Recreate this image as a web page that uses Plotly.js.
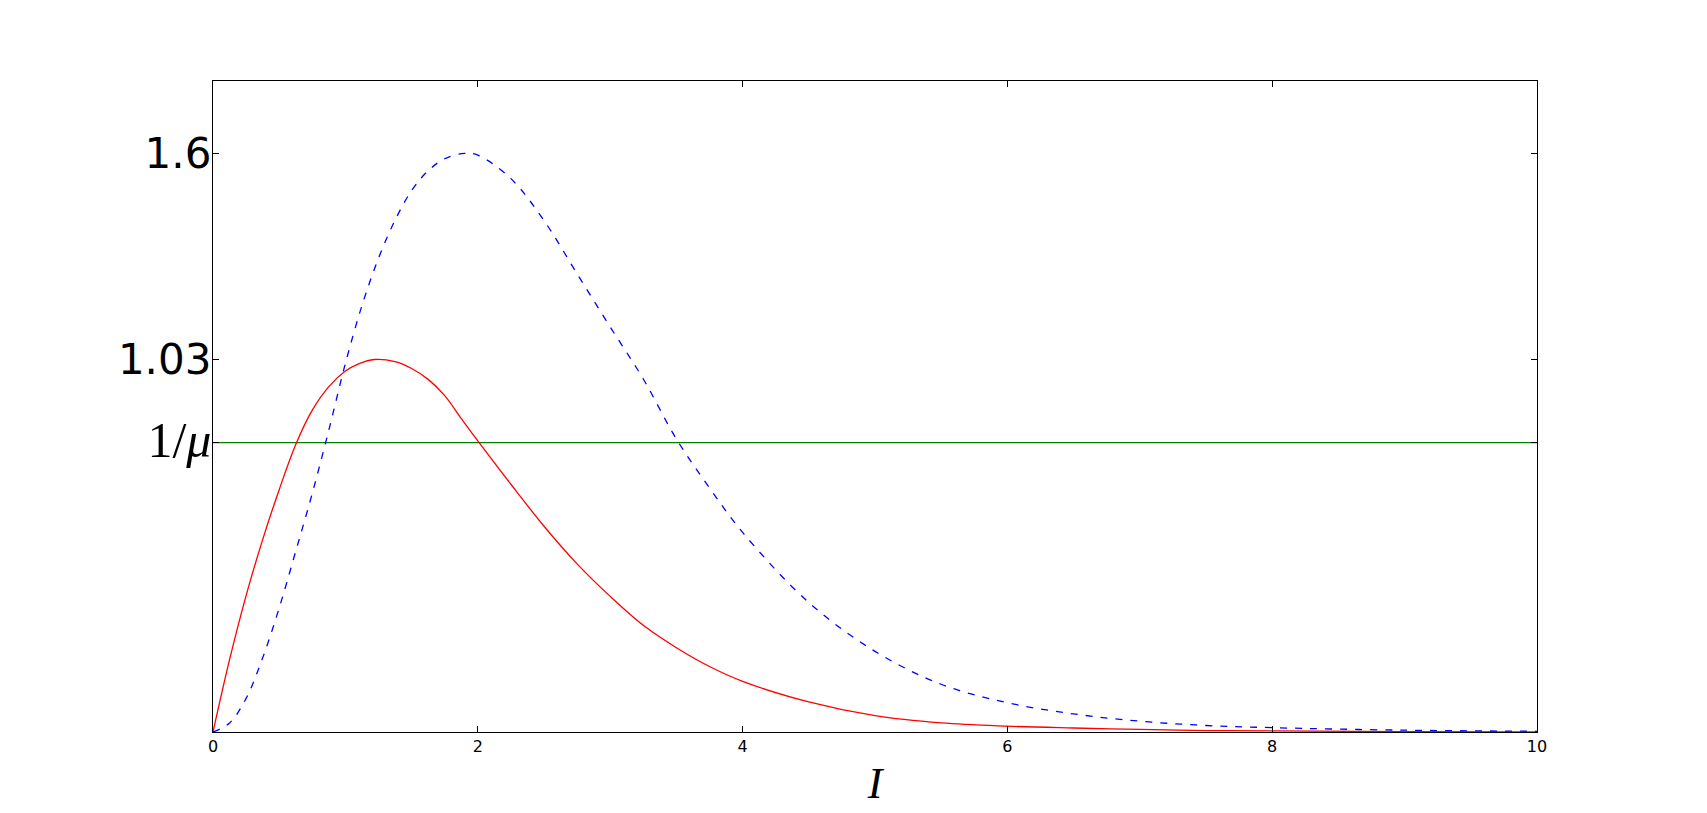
<!DOCTYPE html>
<html>
<head>
<meta charset="utf-8">
<script src="https://cdn.plot.ly/plotly-3.0.1.min.js"></script>
<style>
	body { margin: 0; background: #ffffff; }
	#plot { width: 1707px; height: 813px; }
</style>
</head>
<body>
<div id="plot"></div>
<script>
// values
var intensity = [0, 0.125, 0.25, 0.375, 0.5, 0.625, 0.75, 0.875, 1.0, 1.1, 1.22, 1.375, 1.5, 1.625, 1.75, 1.875, 2.0, 2.25, 2.5, 2.75, 3.0, 3.25, 3.5, 3.75, 4.0, 4.5, 5.0, 5.5, 6.0, 6.5, 7.0, 7.5, 8.0, 9.0, 10.0];
var redCurve = [0, 0.20, 0.377, 0.532, 0.67, 0.795, 0.89, 0.955, 0.998, 1.018, 1.03, 1.024, 1.005, 0.975, 0.93, 0.867, 0.805, 0.685, 0.569, 0.465, 0.375, 0.295, 0.233, 0.181, 0.140, 0.083, 0.045, 0.025, 0.016, 0.011, 0.007, 0.004, 0.003, 0.001, 0.0];

var blueX = [0, 0.125, 0.25, 0.375, 0.5, 0.625, 0.75, 0.875, 1.0, 1.125, 1.25, 1.375, 1.5, 1.625, 1.75, 1.9, 2.0, 2.25, 2.5, 2.75, 3.0, 3.25, 3.5, 3.75, 4.0, 4.5, 5.0, 5.5, 6.0, 6.5, 7.0, 7.5, 8.0, 9.0, 10.0];
var blueCurve = [0, 0.025, 0.093, 0.205, 0.343, 0.50, 0.66, 0.835, 1.019, 1.179, 1.31, 1.415, 1.497, 1.552, 1.585, 1.60, 1.595, 1.53, 1.414, 1.267, 1.12, 0.976, 0.81, 0.675, 0.552, 0.358, 0.223, 0.132, 0.081, 0.050, 0.030, 0.018, 0.012, 0.005, 0.002];

var levelX = [0, 10];
var invMu = 0.8;

var yTickVals = [1.6, 1.03, invMu];
var yTickText = ['1.6', '1.03', '<span style="font-family:Liberation Serif;font-size:50px">1/<i>μ</i></span>'];
var xTickVals = [0, 2, 4, 6, 8, 10];

var red = {
	x: intensity,
	y: redCurve,
	mode: 'lines',
	type: 'scatter',
	line: {color: '#ff0000', width: 1.3, shape: 'spline', smoothing: 1},
	hoverinfo: 'skip',
};

var blue = {
	x: blueX,
	y: blueCurve,
	mode: 'lines',
	type: 'scatter',
	line: {color: '#0000ff', width: 1.3, dash: '7px,8px', shape: 'spline', smoothing: 1},
	hoverinfo: 'skip',
};

var green = {
	x: levelX,
	y: levelX.map(function() { return invMu; }),
	mode: 'lines',
	type: 'scatter',
	line: {color: '#008000', width: 1.3},
	hoverinfo: 'skip',
};

const layout = {
	width: 1707,
	height: 813,
	showlegend: false,
	paper_bgcolor: '#ffffff',
	plot_bgcolor: '#ffffff',
	margin: {l: 213, r: 170, t: 81, b: 81},
	xaxis: {
		range: [0, 10],
		tickvals: xTickVals,
		ticks: 'inside',
		ticklen: 6,
		tickcolor: '#000000',
		showline: true,
		linecolor: '#000000',
		linewidth: 1.2,
		mirror: 'allticks',
		showgrid: false,
		zeroline: false,
		tickfont: {family: 'DejaVu Sans', size: 16, color: '#000000'},
		title: {
			text: '<i>I</i>',
			font: {family: 'Liberation Serif', size: 44, color: '#000000'},
			standoff: 11,
		},
		automargin: false,
	},
	yaxis: {
		range: [0, 1.8],
		tickvals: yTickVals,
		ticktext: yTickText,
		ticks: 'inside',
		ticklen: 6,
		tickcolor: '#000000',
		showline: true,
		linecolor: '#000000',
		linewidth: 1.2,
		mirror: 'allticks',
		showgrid: false,
		zeroline: false,
		ticklabelstandoff: -8,
		tickfont: {family: 'DejaVu Sans', size: 42, color: '#000000'},
		automargin: false,
	},
};

Plotly.newPlot('plot', [green, red, blue], layout, {staticPlot: true});
</script>
</body>
</html>
